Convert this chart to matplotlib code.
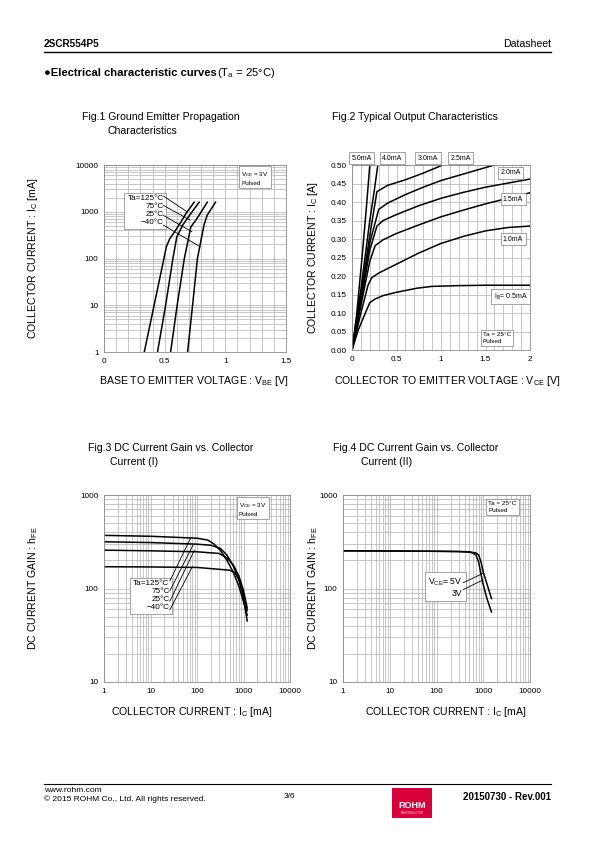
import numpy as np
import matplotlib
matplotlib.use("Agg")
from matplotlib import pyplot as plt
from matplotlib.ticker import FixedLocator, MultipleLocator, LogLocator, FuncFormatter, NullFormatter
from matplotlib.patches import Rectangle

plt.rcParams["font.family"] = ["Liberation Sans", "DejaVu Sans"]
plt.rcParams["mathtext.fontset"] = "custom"
plt.rcParams["mathtext.rm"] = "Liberation Sans"
plt.rcParams["mathtext.default"] = "regular"

# ---- Fig.1: Ic [mA] vs Vbe [V] ----
vbe_125 = [0.332, 0.413, 0.494, 0.514, 0.540, 0.581, 0.630, 0.676, 0.743]
ic_125 = [1, 10, 100, 178, 260, 370, 580, 920, 1600]
vbe_75 = [0.441, 0.508, 0.568, 0.600, 0.649, 0.716, 0.784]
ic_75 = [1, 10, 100, 290, 520, 920, 1600]
vbe_25 = [0.549, 0.603, 0.662, 0.716, 0.757, 0.811, 0.851]
ic_25 = [1, 10, 100, 475, 660, 1090, 1600]
vbe_m40 = [0.689, 0.730, 0.770, 0.824, 0.851, 0.919]
ic_m40 = [1, 10, 100, 520, 850, 1600]
fig1_labels = ["Ta=125°C", "75°C", "25°C", "\u221240°C"]
fig1_lead_from = [(0.49, 2160), (0.49, 1365), (0.49, 835), (0.49, 516)]
fig1_lead_to = [(0.684, 1000), (0.711, 660), (0.725, 372), (0.793, 178)]

# ---- Fig.2: Ic [A] vs Vce [V] for several Ib ----
vce_05 = [0, 0.07, 0.15, 0.2, 0.26, 0.35, 0.5, 0.73, 0.9, 1.2, 1.5, 2.0]
ic_05 = [0, 0.054, 0.10, 0.128, 0.138, 0.147, 0.156, 0.167, 0.172, 0.174, 0.175, 0.175]
vce_10 = [0, 0.1, 0.18, 0.22, 0.3, 0.5, 0.75, 1.0, 1.25, 1.5, 1.75, 2.0]
ic_10 = [0, 0.10, 0.175, 0.195, 0.208, 0.232, 0.262, 0.288, 0.307, 0.322, 0.331, 0.335]
vce_15 = [0, 0.1, 0.2, 0.26, 0.35, 0.5, 0.75, 1.0, 1.25, 1.5, 1.75, 2.0]
ic_15 = [0, 0.12, 0.24, 0.282, 0.298, 0.315, 0.338, 0.36, 0.378, 0.395, 0.41, 0.425]
vce_20 = [0, 0.1, 0.2, 0.28, 0.35, 0.5, 0.75, 1.0, 1.25, 1.5, 1.75, 2.0]
ic_20 = [0, 0.13, 0.27, 0.335, 0.35, 0.366, 0.39, 0.41, 0.426, 0.44, 0.451, 0.462]
vce_25 = [0, 0.1, 0.2, 0.3, 0.4, 0.6, 0.8, 1.0, 1.2, 1.4, 1.6]
ic_25a = [0, 0.14, 0.29, 0.38, 0.397, 0.42, 0.44, 0.458, 0.472, 0.486, 0.5]
vce_30 = [0, 0.1, 0.2, 0.28, 0.4, 0.6, 0.8, 1.02]
ic_30 = [0, 0.15, 0.31, 0.428, 0.445, 0.46, 0.478, 0.5]
vce_40 = [0, 0.1, 0.2, 0.25, 0.29]
ic_40 = [0, 0.165, 0.35, 0.43, 0.5]
vce_50 = [0, 0.05, 0.11, 0.16, 0.2]
ic_50 = [0, 0.09, 0.243, 0.38, 0.5]
fig2_top_labels = ["5.0mA", "4.0mA", "3.0mA", "2.5mA"]
fig2_top_x = [0.11, 0.455, 0.855, 1.22]
fig2_side_labels = ["2.0mA", "1.5mA", "1.0mA", "I$_B$= 0.5mA"]
fig2_side_pos = [(1.78, 0.479), (1.81, 0.407), (1.81, 0.299), (1.78, 0.144)]

# ---- Fig.3: hFE vs Ic [mA], Vce = 3V ----
ic3_125 = [1, 10, 100, 170, 230, 320, 440, 600, 800, 1000, 1200]
hfe3_125 = [370, 362, 345, 330, 300, 255, 200, 150, 105, 72, 52]
ic3_75 = [1, 10, 100, 200, 320, 440, 600, 800, 1000, 1200]
hfe3_75 = [316, 310, 298, 290, 268, 228, 175, 122, 85, 58]
ic3_25 = [1, 10, 100, 300, 440, 600, 800, 1000, 1200]
hfe3_25 = [257, 253, 247, 237, 212, 180, 135, 95, 62]
ic3_m40 = [1, 10, 100, 500, 650, 800, 1000, 1200]
hfe3_m40 = [171, 170, 168, 157, 148, 125, 80, 45]
fig3_lead_from = [(26, 120), (26, 94), (26, 73), (26, 59)]
fig3_lead_to = [(72, 343), (82, 291), (88, 257), (80, 172)]

# ---- Fig.4: hFE vs Ic [mA], Ta = 25C ----
ic4_5v = [1, 10, 100, 300, 500, 700, 800, 900, 1000, 1200, 1500]
hfe4_5v = [253, 252, 250, 249, 247, 240, 228, 190, 150, 112, 78]
ic4_3v = [1, 10, 100, 300, 500, 600, 700, 800, 900, 1000, 1200, 1500]
hfe4_3v = [253, 252, 250, 248, 245, 240, 228, 190, 140, 110, 78, 56]
fig4_lead_from = [(370, 115), (370, 97)]
fig4_lead_to = [(980, 145), (937, 122)]

W, H = 595, 842
fig = plt.figure(figsize=(W / 100, H / 100), dpi=100)

GRID = "#b0b0b0"
BOX = dict(boxstyle="square,pad=0.35", fc="white", ec="#808080", lw=0.5)


def rect(l, t, r, b):
    return [l / W, 1 - b / H, (r - l) / W, (b - t) / H]


def ftext(x, y, s, **kw):
    return fig.text(x / W, 1 - y / H, s, **kw)


def style(ax):
    ax.tick_params(which="both", length=0, labelsize=5.9, pad=4)
    for s in ax.spines.values():
        s.set_color("#8c8c8c")
        s.set_linewidth(0.6)
    ax.grid(True, which="both", color=GRID, lw=0.5)
    ax.set_axisbelow(True)


def logfmt(v, _):
    return f"{v:g}"


def lead(ax, a, b):
    ax.annotate("", xy=b, xytext=a,
                arrowprops=dict(arrowstyle="-", lw=0.6, color="black", shrinkA=0, shrinkB=0))


# header
ftext(44, 44, "2SCR554P5", fontsize=7.2, fontweight="bold", va="center")
ftext(551, 44, "Datasheet", fontsize=7.6, va="center", ha="right")
fig.add_artist(plt.Line2D([44 / W, 551 / W], [1 - 52 / H, 1 - 52 / H], color="black", lw=1.0))
t = ftext(44, 73, "\u25cfElectrical characteristic curves", fontsize=8.1, fontweight="bold", va="center")
fig.canvas.draw()
bb = t.get_window_extent()
ftext(bb.x1 + 0.5, 73, "(T$_a$ = 25°C)", fontsize=8.1, va="center")

# titles
ftext(82, 117, "Fig.1 Ground Emitter Propagation", fontsize=7.6, va="center")
ftext(108, 131, "Characteristics", fontsize=7.6, va="center")
ftext(332, 117, "Fig.2 Typical Output Characteristics", fontsize=7.6, va="center")
ftext(88, 448, "Fig.3 DC Current Gain vs. Collector", fontsize=7.6, va="center")
ftext(110, 462, "Current (I)", fontsize=7.6, va="center")
ftext(333, 448, "Fig.4 DC Current Gain vs. Collector", fontsize=7.6, va="center")
ftext(361, 462, "Current (II)", fontsize=7.6, va="center")

# ---- Fig.1 ----
ax1 = fig.add_axes(rect(104, 165, 286, 352))
style(ax1)
ax1.set_yscale("log")
for x, y in [(vbe_125, ic_125), (vbe_75, ic_75), (vbe_25, ic_25), (vbe_m40, ic_m40)]:
    ax1.plot(x, y, color="black", lw=1.1)
ax1.set_xlim(0, 1.5)
ax1.set_ylim(1, 10000)
ax1.xaxis.set_major_locator(FixedLocator([0, 0.5, 1, 1.5]))
ax1.xaxis.set_major_formatter(FuncFormatter(logfmt))
ax1.xaxis.set_minor_locator(MultipleLocator(0.1))
ax1.yaxis.set_major_locator(LogLocator(base=10))
ax1.yaxis.set_minor_locator(LogLocator(base=10, subs=np.arange(2, 10)))
ax1.yaxis.set_major_formatter(FuncFormatter(logfmt))
ax1.yaxis.set_minor_formatter(NullFormatter())
ax1.text(0.49, 1060, "\n".join(fig1_labels), fontsize=5.9, ha="right", va="center",
         multialignment="right", linespacing=1.15, bbox=dict(BOX, pad=0.5))
for a, b in zip(fig1_lead_from, fig1_lead_to):
    lead(ax1, a, b)
ax1.text(1.13, 5300, "V$_{CE}$ = 3V\nPulsed", fontsize=4.6, ha="left", va="center",
         linespacing=1.5, bbox=dict(BOX, pad=0.5))

# ---- Fig.2 ----
ax2 = fig.add_axes(rect(352, 165, 530, 350))
style(ax2)
for x, y in [(vce_05, ic_05), (vce_10, ic_10), (vce_15, ic_15), (vce_20, ic_20),
             (vce_25, ic_25a), (vce_30, ic_30), (vce_40, ic_40), (vce_50, ic_50)]:
    ax2.plot(x, y, color="black", lw=1.1)
ax2.set_xlim(0, 2)
ax2.set_ylim(0, 0.5)
ax2.xaxis.set_major_locator(FixedLocator([0, 0.5, 1, 1.5, 2]))
ax2.xaxis.set_major_formatter(FuncFormatter(logfmt))
ax2.xaxis.set_minor_locator(MultipleLocator(0.1))
ax2.yaxis.set_major_locator(MultipleLocator(0.05))
ax2.yaxis.set_major_formatter(FuncFormatter(lambda v, _: f"{v:.2f}"))
for lab, x in zip(fig2_top_labels, fig2_top_x):
    ax2.text(x, 0.518, lab, fontsize=5, ha="center", va="center", clip_on=False,
             bbox=dict(BOX, pad=0.3))
for lab, (x, y) in zip(fig2_side_labels, fig2_side_pos):
    ax2.text(x, y, lab, fontsize=5, ha="center", va="center", bbox=dict(BOX, pad=0.3))
ax2.text(1.47, 0.033, "Ta = 25°C\nPulsed", fontsize=4.6, ha="left", va="center",
         linespacing=1.5, bbox=dict(BOX, pad=0.5))

# ---- Fig.3 ----
ax3 = fig.add_axes(rect(104, 495, 290, 682))
style(ax3)
ax3.set_xscale("log")
ax3.set_yscale("log")
for x, y in [(ic3_125, hfe3_125), (ic3_75, hfe3_75), (ic3_25, hfe3_25), (ic3_m40, hfe3_m40)]:
    ax3.plot(x, y, color="black", lw=1.1)
ax3.set_xlim(1, 10000)
ax3.set_ylim(10, 1000)
for axis in (ax3.xaxis, ax3.yaxis):
    axis.set_major_locator(LogLocator(base=10))
    axis.set_minor_locator(LogLocator(base=10, subs=np.arange(2, 10)))
    axis.set_major_formatter(FuncFormatter(logfmt))
    axis.set_minor_formatter(NullFormatter())
ax3.text(25.5, 84, "\n".join(fig1_labels), fontsize=5.9, ha="right", va="center",
         multialignment="right", linespacing=1.15, bbox=dict(BOX, pad=0.7))
for a, b in zip(fig3_lead_from, fig3_lead_to):
    lead(ax3, a, b)
ax3.text(790, 710, "V$_{CE}$ = 3V\nPulsed", fontsize=4.6, ha="left", va="center",
         linespacing=1.5, bbox=dict(BOX, pad=0.5))

# ---- Fig.4 ----
ax4 = fig.add_axes(rect(343, 495, 530, 682))
style(ax4)
ax4.set_xscale("log")
ax4.set_yscale("log")
for x, y in [(ic4_5v, hfe4_5v), (ic4_3v, hfe4_3v)]:
    ax4.plot(x, y, color="black", lw=1.1)
ax4.set_xlim(1, 10000)
ax4.set_ylim(10, 1000)
for axis in (ax4.xaxis, ax4.yaxis):
    axis.set_major_locator(LogLocator(base=10))
    axis.set_minor_locator(LogLocator(base=10, subs=np.arange(2, 10)))
    axis.set_major_formatter(FuncFormatter(logfmt))
    axis.set_minor_formatter(NullFormatter())
ax4.text(360, 104, "V$_{CE}$= 5V\n3V", fontsize=6.2, ha="right", va="center",
         multialignment="right", linespacing=1.1, bbox=dict(BOX, pad=0.8))
for a, b in zip(fig4_lead_from, fig4_lead_to):
    lead(ax4, a, b)
ax4.text(1270, 740, "Ta = 25°C\nPulsed", fontsize=4.6, ha="left", va="center",
         linespacing=1.5, bbox=dict(BOX, pad=0.5))

# axis labels
ftext(194, 381, "BASE TO EMITTER VOLTAGE : V$_{BE}$ [V]", fontsize=7.6, ha="center", va="center")
ftext(447, 381, "COLLECTOR TO EMITTER VOLTAGE : V$_{CE}$ [V]", fontsize=7.6, ha="center", va="center")
ftext(192, 712, "COLLECTOR CURRENT : I$_C$ [mA]", fontsize=7.6, ha="center", va="center")
ftext(446, 712, "COLLECTOR CURRENT : I$_C$ [mA]", fontsize=7.6, ha="center", va="center")
ftext(33, 258, "COLLECTOR CURRENT : I$_C$ [mA]", fontsize=7.6, ha="center", va="center", rotation=90)
ftext(313, 258, "COLLECTOR CURRENT : I$_C$ [A]", fontsize=7.6, ha="center", va="center", rotation=90)
ftext(33, 588, "DC CURRENT GAIN : h$_{FE}$", fontsize=7.6, ha="center", va="center", rotation=90)
ftext(313, 588, "DC CURRENT GAIN : h$_{FE}$", fontsize=7.6, ha="center", va="center", rotation=90)

# footer
fig.add_artist(plt.Line2D([44 / W, 551 / W], [1 - 784 / H, 1 - 784 / H], color="black", lw=0.8))
ftext(44, 790, "www.rohm.com", fontsize=6, va="center")
ftext(44, 799, "\u00a9 2015 ROHM Co., Ltd. All rights reserved.", fontsize=6, va="center")
ftext(289, 797, "3/6", fontsize=6, ha="center", va="center")
fig.add_artist(Rectangle((392 / W, 1 - 818 / H), 40 / W, 30 / H, transform=fig.transFigure,
                         fc="#d7003a", ec="none"))
ftext(412, 805, "ROHM", fontsize=6.5, fontweight="bold", color="white", ha="center", va="center")
ftext(412, 813, "SEMICONDUCTOR", fontsize=1.8, color="white", ha="center", va="center")
ftext(551, 797, "20150730 - Rev.001", fontsize=7, fontweight="bold", ha="right", va="center")

fig.savefig("out.png", dpi=100)
